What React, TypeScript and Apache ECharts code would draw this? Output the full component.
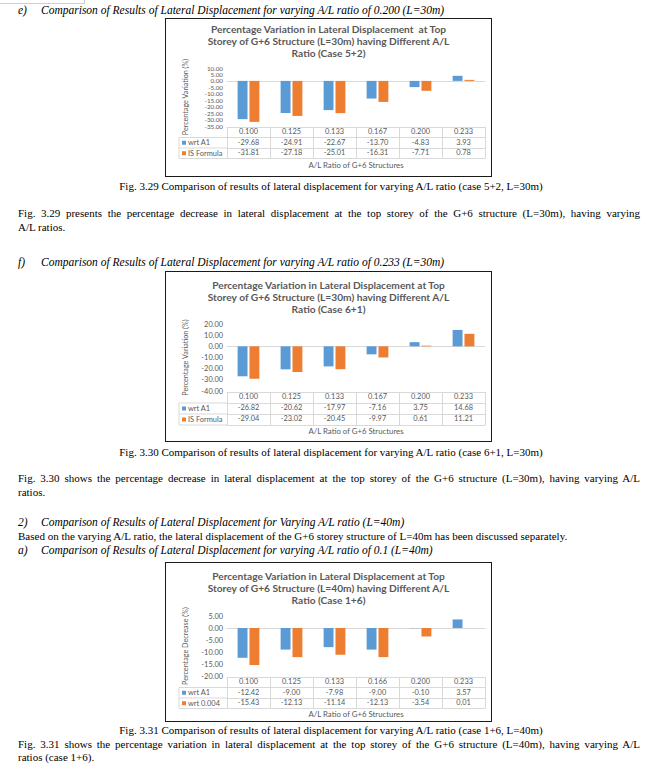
import React, { useEffect, useRef } from "react";
import * as echarts from "echarts";

// ---------- data ----------
const ratiosL30 = ["0.100", "0.125", "0.133", "0.167", "0.200", "0.233"];
const case52WrtA1 = [-29.68, -24.91, -22.67, -13.7, -4.83, 3.93];
const case52IS = [-31.81, -27.18, -25.01, -16.31, -7.71, 0.78];
const case61WrtA1 = [-26.82, -20.62, -17.97, -7.16, 3.75, 14.68];
const case61IS = [-29.04, -23.02, -20.45, -9.97, 0.61, 11.21];
const ratiosL40 = ["0.100", "0.125", "0.133", "0.166", "0.200", "0.233"];
const case16WrtA1 = [-12.42, -9.0, -7.98, -9.0, -0.1, 3.57];
const case16Wrt004 = [-15.43, -12.13, -11.14, -12.13, -3.54, 0.01];

const title52 = [
  "Percentage Variation in Lateral Displacement  at Top",
  "Storey of G+6 Structure (L=30m) having Different A/L",
  "Ratio (Case 5+2)",
];
const title61 = [
  "Percentage Variation in Lateral Displacement at Top",
  "Storey of G+6 Structure (L=30m) having Different A/L",
  "Ratio (Case 6+1)",
];
const title16 = [
  "Percentage Variation in Lateral Displacement at Top",
  "Storey of G+6 Structure (L=40m) having Different A/L",
  "Ratio (Case 1+6)",
];

const BLUE = "#5B9BD5";
const ORANGE = "#ED7D31";
const GREY_TXT = "#595959";
const GRID_LINE = "#d9d9d9";
const sans = 'Lato, "Noto Sans", sans-serif';
const serif = '"Liberation Serif", "Times New Roman", serif';
const SMALL = 7.4;

type Cfg = {
  titleLines: string[];
  categories: string[];
  series: { name: string; data: number[]; color: string }[];
  yMin: number;
  yMax: number;
  yInterval: number;
  yName: string;
  yLabelSize: number;
  box: { left: number; top: number; width: number; height: number };
  titleTop: number;
  gridTop: number;
  gridHeight: number;
  rowH: number;
  axisTitleGap: number;
};

function buildOption(c: Cfg) {
  const gridLeft = 61;
  const gridRight = 6;
  const gridBottom = c.gridTop + c.gridHeight;
  const tableTop = gridBottom + 1;
  const rows: (string[] | number[])[] = [c.categories, ...c.series.map((s) => s.data)];
  const headerLeft = 13;

  const rowAxes = rows.map((row, k) => ({
    type: "category",
    data: c.categories,
    position: "bottom",
    offset: tableTop - gridBottom + k * c.rowH,
    axisLine: { show: true, onZero: false, lineStyle: { color: GRID_LINE, width: 1 } },
    axisTick: {
      show: true,
      length: c.rowH,
      interval: 0,
      alignWithLabel: false,
      lineStyle: { color: GRID_LINE, width: 1 },
    },
    axisLabel: {
      show: true,
      interval: 0,
      hideOverlap: false,
      margin: Math.max(1, (c.rowH - SMALL - 1) / 2),
      fontSize: SMALL,
      color: GREY_TXT,
      fontFamily: sans,
      formatter: (v: string, i: number) =>
        k === 0 ? v : (row[i] as number).toFixed(2),
    },
    splitLine: { show: false },
  }));

  const graphics: any[] = [];
  c.series.forEach((s, k) => {
    const top = tableTop + (k + 1) * c.rowH;
    const mid = top + c.rowH / 2;
    graphics.push({
      type: "line",
      shape: { x1: headerLeft, y1: top, x2: gridLeft, y2: top },
      style: { stroke: GRID_LINE, lineWidth: 1 },
      silent: true,
    });
    graphics.push({
      type: "rect",
      shape: { x: headerLeft + 3, y: mid - 2, width: 4, height: 4 },
      style: { fill: s.color },
      silent: true,
    });
    graphics.push({
      type: "text",
      x: headerLeft + 9,
      y: mid,
      style: {
        text: s.name,
        fontSize: SMALL,
        fontFamily: sans,
        fill: GREY_TXT,
        verticalAlign: "middle",
        align: "left",
      },
      silent: true,
    });
  });
  const tableBottom = tableTop + rows.length * c.rowH;
  graphics.push({
    type: "line",
    shape: { x1: headerLeft, y1: tableBottom, x2: gridLeft, y2: tableBottom },
    style: { stroke: GRID_LINE, lineWidth: 1 },
    silent: true,
  });
  graphics.push({
    type: "line",
    shape: { x1: headerLeft, y1: tableTop + c.rowH, x2: headerLeft, y2: tableBottom },
    style: { stroke: GRID_LINE, lineWidth: 1 },
    silent: true,
  });

  return {
    animation: false,
    backgroundColor: "#ffffff",
    title: {
      text: c.titleLines.join("\n"),
      left: "center",
      top: c.titleTop,
      padding: 0,
      textStyle: {
        fontSize: 10.2,
        fontWeight: "bold",
        color: GREY_TXT,
        fontFamily: sans,
        lineHeight: 11.8,
      },
    },
    grid: { left: gridLeft, right: gridRight, top: c.gridTop, height: c.gridHeight },
    xAxis: [
      {
        type: "category",
        data: c.categories,
        position: "bottom",
        axisLine: { show: true, onZero: true, lineStyle: { color: GRID_LINE, width: 1 } },
        axisTick: { show: false },
        axisLabel: { show: false },
        splitLine: { show: false },
      },
      ...rowAxes,
      {
        type: "category",
        data: c.categories,
        position: "bottom",
        offset: tableBottom - gridBottom,
        axisLine: { show: true, onZero: false, lineStyle: { color: GRID_LINE, width: 1 } },
        axisTick: { show: false },
        axisLabel: { show: false },
        name: "A/L Ratio of G+6 Structures",
        nameLocation: "middle",
        nameGap: c.axisTitleGap,
        nameTextStyle: { fontSize: 7.8, color: GREY_TXT, fontFamily: sans },
      },
    ],
    yAxis: {
      type: "value",
      min: c.yMin,
      max: c.yMax,
      interval: c.yInterval,
      axisLine: { show: false },
      axisTick: { show: false },
      splitLine: { show: false },
      axisLabel: {
        fontSize: c.yLabelSize,
        color: GREY_TXT,
        fontFamily: sans,
        margin: 4,
        showMinLabel: true,
        showMaxLabel: true,
        hideOverlap: false,
        lineHeight: c.yLabelSize,
        formatter: (v: number) => v.toFixed(2),
      },
      name: c.yName,
      nameLocation: "middle",
      nameGap: 38,
      nameTextStyle: { fontSize: 7.2, color: GREY_TXT, fontFamily: sans },
    },
    series: c.series.map((s) => ({
      type: "bar",
      name: s.name,
      data: s.data,
      xAxisIndex: 0,
      yAxisIndex: 0,
      barWidth: "23%",
      barGap: "20%",
      itemStyle: { color: s.color },
    })),
    graphic: graphics,
  };
}

const chartCfgs: Cfg[] = [
  {
    titleLines: title52,
    categories: ratiosL30,
    series: [
      { name: "wrt A1", data: case52WrtA1, color: BLUE },
      { name: "IS Formula", data: case52IS, color: ORANGE },
    ],
    yMin: -35,
    yMax: 10,
    yInterval: 5,
    yName: "Percentage Variation (%)",
    yLabelSize: 6.3,
    box: { left: 165, top: 18, width: 327, height: 159 },
    titleTop: 4,
    gridTop: 49,
    gridHeight: 58,
    rowH: 10.5,
    axisTitleGap: 2,
  },
  {
    titleLines: title61,
    categories: ratiosL30,
    series: [
      { name: "wrt A1", data: case61WrtA1, color: BLUE },
      { name: "IS Formula", data: case61IS, color: ORANGE },
    ],
    yMin: -40,
    yMax: 20,
    yInterval: 10,
    yName: "Percentage Variation (%)",
    yLabelSize: SMALL,
    box: { left: 165, top: 271, width: 327, height: 171 },
    titleTop: 7,
    gridTop: 52,
    gridHeight: 67,
    rowH: 11,
    axisTitleGap: 2,
  },
  {
    titleLines: title16,
    categories: ratiosL40,
    series: [
      { name: "wrt A1", data: case16WrtA1, color: BLUE },
      { name: "wrt 0.004", data: case16Wrt004, color: ORANGE },
    ],
    yMin: -20,
    yMax: 5,
    yInterval: 5,
    yName: "Percentage Decrease (%)",
    yLabelSize: SMALL,
    box: { left: 165, top: 562, width: 327, height: 160 },
    titleTop: 7,
    gridTop: 53,
    gridHeight: 60,
    rowH: 10.5,
    axisTitleGap: 1,
  },
];

function BarChart({ cfg }: { cfg: Cfg }) {
  const ref = useRef<HTMLDivElement>(null);
  useEffect(() => {
    if (!ref.current) return;
    const chart = echarts.init(ref.current, null, { renderer: "svg" });
    chart.setOption(buildOption(cfg) as any);
    return () => chart.dispose();
  }, [cfg]);
  return (
    <div
      style={{
        position: "absolute",
        left: cfg.box.left,
        top: cfg.box.top,
        width: cfg.box.width,
        height: cfg.box.height,
        border: "1px solid #1a1a1a",
        boxSizing: "border-box",
        background: "#fff",
      }}
    >
      <div ref={ref} style={{ width: "100%", height: "100%" }} />
    </div>
  );
}

const baseText: React.CSSProperties = {
  position: "absolute",
  fontFamily: serif,
  fontSize: 11,
  lineHeight: "14px",
  color: "#000",
  whiteSpace: "nowrap",
};

function Heading({ y, label, text }: { y: number; label: string; text: string }) {
  return (
    <>
      <div style={{ ...baseText, fontStyle: "italic", fontSize: 11.5, left: 18, top: y - 7 }}>{label}</div>
      <div style={{ ...baseText, fontStyle: "italic", fontSize: 11.5, left: 41, top: y - 7 }}>{text}</div>
    </>
  );
}

function Justified({ y, text }: { y: number; text: string }) {
  return (
    <div
      style={{
        ...baseText,
        left: 18,
        top: y - 7,
        width: 622,
        textAlign: "justify",
        textAlignLast: "justify",
      }}
    >
      {text}
    </div>
  );
}

function Plain({ y, text }: { y: number; text: string }) {
  return <div style={{ ...baseText, left: 18, top: y - 7 }}>{text}</div>;
}

function Caption({ y, text }: { y: number; text: string }) {
  return (
    <div style={{ ...baseText, left: 0, width: 662, textAlign: "center", top: y - 7 }}>{text}</div>
  );
}

export default function App() {
  return (
    <div
      style={{
        position: "absolute",
        left: 0,
        top: 0,
        width: 662,
        height: 777,
        background: "#fff",
        overflow: "hidden",
      }}
    >
      <div
        style={{
          position: "absolute",
          left: 0,
          top: 0,
          width: 84,
          height: 3,
          borderRight: "1px solid #cfcfcf",
          borderBottom: "1px solid #cfcfcf",
        }}
      />
      <Heading
        y={10}
        label="e)"
        text="Comparison of Results of Lateral Displacement for varying A/L ratio of 0.200 (L=30m)"
      />
      <BarChart cfg={chartCfgs[0]} />
      <Caption
        y={186}
        text="Fig. 3.29 Comparison of results of lateral displacement for varying A/L ratio (case 5+2, L=30m)"
      />
      <Justified
        y={213}
        text="Fig. 3.29 presents the percentage decrease in lateral displacement at the top storey of the G+6 structure (L=30m), having varying"
      />
      <Plain y={227} text="A/L ratios." />
      <Heading
        y={262}
        label="f)"
        text="Comparison of Results of Lateral Displacement for varying A/L ratio of 0.233 (L=30m)"
      />
      <BarChart cfg={chartCfgs[1]} />
      <Caption
        y={452}
        text="Fig. 3.30 Comparison of results of lateral displacement for varying A/L ratio (case 6+1, L=30m)"
      />
      <Justified
        y={478}
        text="Fig. 3.30 shows the percentage decrease in lateral displacement at the top storey of the G+6 structure (L=30m), having varying A/L"
      />
      <Plain y={492} text="ratios." />
      <Heading
        y={522}
        label="2)"
        text="Comparison of Results of Lateral Displacement for Varying A/L ratio (L=40m)"
      />
      <Plain
        y={536}
        text="Based on the varying A/L ratio, the lateral displacement of the G+6 storey structure of L=40m has been discussed separately."
      />
      <Heading
        y={550}
        label="a)"
        text="Comparison of Results of Lateral Displacement for varying A/L ratio of 0.1 (L=40m)"
      />
      <BarChart cfg={chartCfgs[2]} />
      <Caption
        y={730}
        text="Fig. 3.31 Comparison of results of lateral displacement for varying A/L ratio (case 1+6, L=40m)"
      />
      <Justified
        y={744}
        text="Fig. 3.31 shows the percentage variation in lateral displacement at the top storey of the G+6 structure (L=40m), having varying A/L"
      />
      <Plain y={757} text="ratios (case 1+6)." />
    </div>
  );
}
